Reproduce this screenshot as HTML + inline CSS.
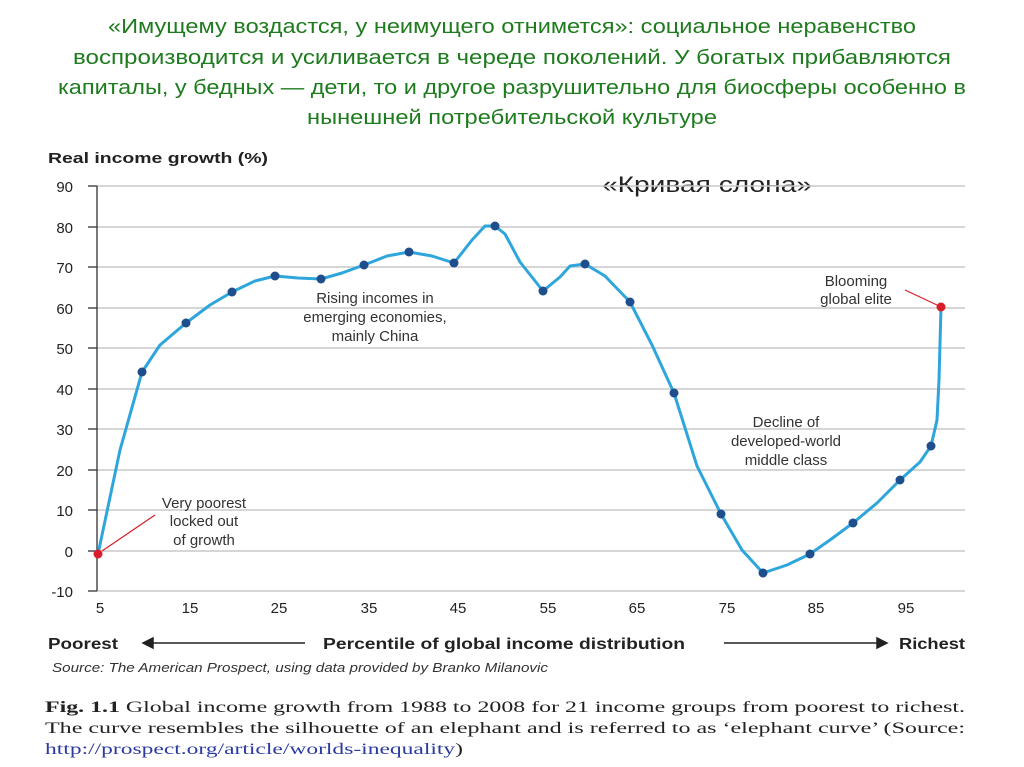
<!DOCTYPE html>
<html><head><meta charset="utf-8"><style>
html,body{margin:0;padding:0;background:#fff;}
svg{display:block}
</style></head><body>
<svg width="1024" height="767" viewBox="0 0 1024 767" xmlns="http://www.w3.org/2000/svg">
<g font-family="'Liberation Sans Narrow','Liberation Sans',sans-serif" fill="#1e7b1e" font-size="20" text-anchor="middle">
<text x="512" y="33" textLength="808" lengthAdjust="spacingAndGlyphs">«Имущему воздастся, у неимущего отнимется»: социальное неравенство</text>
<text x="512" y="64" textLength="878" lengthAdjust="spacingAndGlyphs">воспроизводится и усиливается в череде поколений. У богатых прибавляются</text>
<text x="512" y="94" textLength="908" lengthAdjust="spacingAndGlyphs">капиталы, у бедных — дети, то и другое разрушительно для биосферы особенно в</text>
<text x="512" y="124" textLength="410" lengthAdjust="spacingAndGlyphs">нынешней потребительской культуре</text>
</g>
<text x="707" y="192" font-family="'Liberation Sans Narrow','Liberation Sans',sans-serif" font-size="22" fill="#222" text-anchor="middle" textLength="210" lengthAdjust="spacingAndGlyphs">«Кривая слона»</text>
<text x="48" y="163" font-family="'Liberation Sans Narrow','Liberation Sans',sans-serif" font-weight="bold" font-size="15" fill="#222" textLength="220" lengthAdjust="spacingAndGlyphs">Real income growth (%)</text>
<g stroke="#c8c8c8" stroke-width="1.5">
<line x1="97" y1="186" x2="965" y2="186"/><line x1="97" y1="227" x2="965" y2="227"/><line x1="97" y1="267" x2="965" y2="267"/><line x1="97" y1="308" x2="965" y2="308"/><line x1="97" y1="348" x2="965" y2="348"/><line x1="97" y1="389" x2="965" y2="389"/><line x1="97" y1="429" x2="965" y2="429"/><line x1="97" y1="470" x2="965" y2="470"/><line x1="97" y1="510" x2="965" y2="510"/><line x1="97" y1="551" x2="965" y2="551"/><line x1="97" y1="591" x2="965" y2="591"/>
</g>
<g stroke="#333" stroke-width="1.3">
<line x1="97" y1="186" x2="97" y2="591"/>
<line x1="88" y1="186" x2="97" y2="186"/><line x1="88" y1="227" x2="97" y2="227"/><line x1="88" y1="267" x2="97" y2="267"/><line x1="88" y1="308" x2="97" y2="308"/><line x1="88" y1="348" x2="97" y2="348"/><line x1="88" y1="389" x2="97" y2="389"/><line x1="88" y1="429" x2="97" y2="429"/><line x1="88" y1="470" x2="97" y2="470"/><line x1="88" y1="510" x2="97" y2="510"/><line x1="88" y1="551" x2="97" y2="551"/><line x1="88" y1="591" x2="97" y2="591"/>
</g>
<g font-family="'Liberation Sans Narrow','Liberation Sans',sans-serif" font-size="15" fill="#222" text-anchor="end">
<text x="73" y="192">90</text><text x="73" y="233">80</text><text x="73" y="273">70</text><text x="73" y="314">60</text><text x="73" y="354">50</text><text x="73" y="395">40</text><text x="73" y="435">30</text><text x="73" y="476">20</text><text x="73" y="516">10</text><text x="73" y="557">0</text><text x="73" y="597">-10</text>
</g>
<g font-family="'Liberation Sans Narrow','Liberation Sans',sans-serif" font-size="15" fill="#222" text-anchor="middle">
<text x="100" y="613">5</text><text x="190" y="613">15</text><text x="279" y="613">25</text><text x="369" y="613">35</text><text x="458" y="613">45</text><text x="548" y="613">55</text><text x="637" y="613">65</text><text x="727" y="613">75</text><text x="816" y="613">85</text><text x="906" y="613">95</text>
</g>
<g font-family="'Liberation Sans Narrow','Liberation Sans',sans-serif" font-weight="bold" font-size="16" fill="#222">
<text x="48" y="649" textLength="70" lengthAdjust="spacingAndGlyphs">Poorest</text>
<text x="323" y="649" textLength="362" lengthAdjust="spacingAndGlyphs">Percentile of global income distribution</text>
<text x="899" y="649" textLength="66" lengthAdjust="spacingAndGlyphs">Richest</text>
</g>
<g stroke="#222" stroke-width="1.5" fill="#222">
<line x1="150" y1="643" x2="305" y2="643"/><polygon points="143,643 153,638 153,648"/>
<line x1="724" y1="643" x2="880" y2="643"/><polygon points="887,643 877,638 877,648"/>
</g>
<text x="52" y="672" font-family="'Liberation Sans Narrow','Liberation Sans',sans-serif" font-style="italic" font-size="13" fill="#333" textLength="496" lengthAdjust="spacingAndGlyphs">Source: The American Prospect, using data provided by Branko Milanovic</text>
<g font-family="'Liberation Serif',serif" font-size="16" fill="#222">
<text x="45" y="712" textLength="920" lengthAdjust="spacingAndGlyphs"><tspan font-weight="bold">Fig. 1.1</tspan>  Global income growth from 1988 to 2008 for 21 income groups from poorest to richest.</text>
<text x="45" y="733" textLength="920" lengthAdjust="spacingAndGlyphs">The curve resembles the silhouette of an elephant and is referred to as ‘elephant curve’ (Source:</text>
<text x="45" y="754" textLength="418" lengthAdjust="spacingAndGlyphs"><tspan fill="#2a3aa0">http://prospect.org/article/worlds-inequality</tspan>)</text>
</g>
<polyline fill="none" stroke="#2ea6dc" stroke-width="3" stroke-linejoin="round" stroke-linecap="round" points="98,554 120,450 142,372 160,345 186,323 210,305 232,292 255,281 275,276 298,278 321,279 342,273 364,265 387,256 409,252 432,256 454,263 472,240 485,226 495,226 505,234 520,262 543,291 560,277 570,266 585,264 605,276 630,302 652,345 674,393 697,466 721,514 742,550 763,573 787,565 810,554 830,540 853,523 877,503 900,480 920,462 931,446 937,420 939,380 941,307"/>
<g fill="#1f4e8c">
<circle cx="142" cy="372" r="4.5"/><circle cx="186" cy="323" r="4.5"/><circle cx="232" cy="292" r="4.5"/><circle cx="275" cy="276" r="4.5"/><circle cx="321" cy="279" r="4.5"/><circle cx="364" cy="265" r="4.5"/><circle cx="409" cy="252" r="4.5"/><circle cx="454" cy="263" r="4.5"/><circle cx="495" cy="226" r="4.5"/><circle cx="543" cy="291" r="4.5"/><circle cx="585" cy="264" r="4.5"/><circle cx="630" cy="302" r="4.5"/><circle cx="674" cy="393" r="4.5"/><circle cx="721" cy="514" r="4.5"/><circle cx="763" cy="573" r="4.5"/><circle cx="810" cy="554" r="4.5"/><circle cx="853" cy="523" r="4.5"/><circle cx="900" cy="480" r="4.5"/><circle cx="931" cy="446" r="4.5"/>
</g>
<g fill="#d81e2a"><circle cx="98" cy="554" r="4.5"/><circle cx="941" cy="307" r="4.5"/></g>
<g stroke="#d81e2a" stroke-width="1.2"><line x1="102" y1="551" x2="155" y2="515"/><line x1="905" y1="290" x2="937" y2="305"/></g>
<g font-family="'Liberation Sans Narrow','Liberation Sans',sans-serif" font-size="15" fill="#333" text-anchor="middle">
<text x="204" y="508">Very poorest</text><text x="204" y="526">locked out</text><text x="204" y="545">of growth</text>
<text x="375" y="303">Rising incomes in</text><text x="375" y="322">emerging economies,</text><text x="375" y="341">mainly China</text>
<text x="786" y="427">Decline of</text><text x="786" y="446">developed-world</text><text x="786" y="465">middle class</text>
<text x="856" y="286">Blooming</text><text x="856" y="304">global elite</text>
</g>
</svg>
</body></html>
